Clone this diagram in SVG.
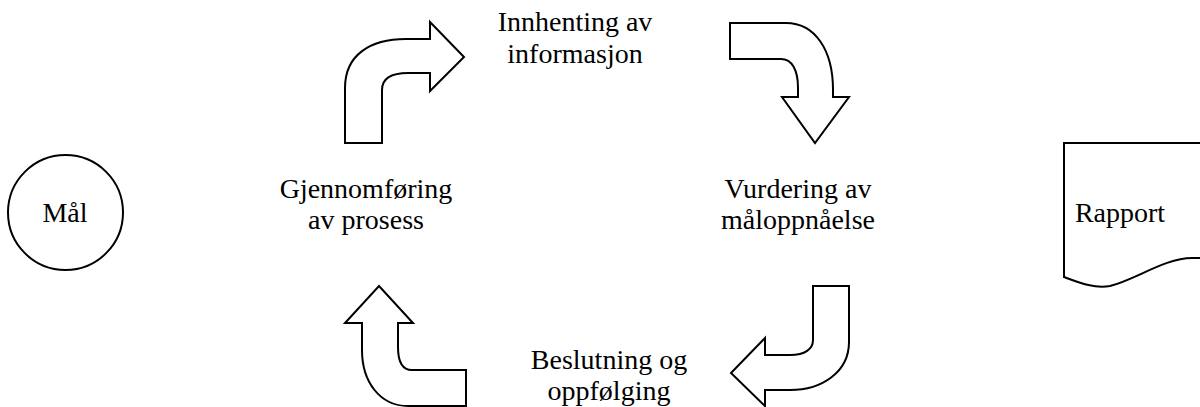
<svg xmlns="http://www.w3.org/2000/svg" width="1200" height="407" viewBox="0 0 1200 407">
<style>
.shape{fill:#fff;stroke:#000;stroke-width:2;stroke-linejoin:miter}
.arrow{fill:#fff;stroke:#000;stroke-width:2;stroke-linejoin:miter}
text{font-family:"Liberation Serif","Times New Roman",serif;font-size:28px;fill:#000;text-anchor:middle}
</style>
<rect width="1200" height="407" fill="#fff"/>
<g id="maal">
<circle class="shape" cx="65.5" cy="212.5" r="57.5"/>
<text x="65" y="222">Mål</text>
</g>
<g id="rapport">
<path class="shape" d="M1064,143 L1205,143 L1205,258 L1192,258 C1165,258 1135,280 1110,286 C1095,289 1080,283 1064,277 Z"/>
<text x="1120" y="222">Rapport</text>
</g>
<g id="innhenting">
<text x="575" y="31">Innhenting av</text>
<text x="575" y="63">informasjon</text>
</g>
<g id="vurdering">
<text x="798" y="198">Vurdering av</text>
<text x="798" y="229">måloppnåelse</text>
</g>
<g id="beslutning">
<text x="609" y="369">Beslutning og</text>
<text x="609" y="400">oppfølging</text>
</g>
<g id="gjennomforing">
<text x="366" y="198">Gjennomføring</text>
<text x="366" y="229">av prosess</text>
</g>
<g id="connectors">
<path class="arrow" d="M345,143 L345,88 C345,55 370,39 406,39 L430,39 L430,22 L464,57 L430,91 L430,73 L408,73 C392,73 382,78 382,90 L382,143 Z"/>
<path class="arrow" d="M730,23 L786,23 C815,23 833,50 833,90 L833,97 L849,97 L815,143 L782,97 L798,97 L798,88 C798,70 792,59 781,59 L730,59 Z"/>
<path class="arrow" d="M813,286 L849,286 L849,342 C849,372 822,390 790,390 L765,390 L765,406 L731,373 L765,338 L765,355 L790,355 C805,355 813,349 813,340 Z"/>
<path class="arrow" d="M379,286 L413,323 L398,323 L398,347 C398,362 403,370 412,370 L466,370 L466,406 L408,406 C380,406 362,382 362,350 L362,323 L345,323 Z"/>
</g>
</svg>
